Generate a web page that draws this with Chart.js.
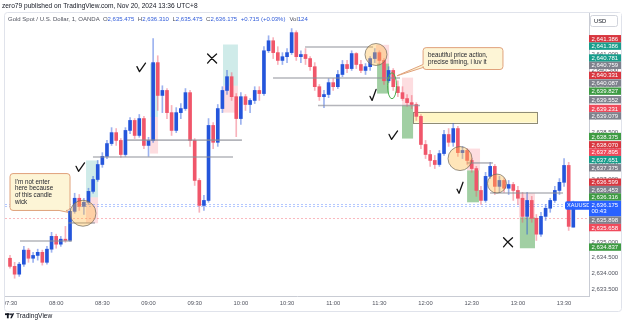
<!DOCTYPE html>
<html>
<head>
<meta charset="utf-8">
<title>XAUUSD 1m - annotated</title>
<script src="https://cdn.jsdelivr.net/npm/chart.js@4.4.1/dist/chart.umd.min.js"></script>
<style>
  html, body { margin: 0; padding: 0; background: #fff; }
  #box { position: relative; width: 625px; height: 326px; }
</style>
</head>
<body>
<div id="box"><canvas id="chart" width="625" height="326"></canvas></div>
<script>
// price data, 3-minute bars from 07:30 to 13:36
const opens = [
  2634.48, 2634.22, 2633.97, 2634.29, 2634.74, 2634.48, 2634.57, 2634.67, 2634.35, 2634.77,
  2635.18, 2634.93, 2635.09, 2635.05, 2635.98, 2636.40, 2636.14, 2636.27, 2636.62, 2637.00,
  2637.48, 2637.74, 2638.15, 2638.50, 2638.25, 2637.80, 2638.57, 2638.89, 2638.41, 2638.95,
  2638.09, 2638.25, 2640.74, 2639.69, 2639.85, 2639.14, 2638.57, 2639.14, 2639.27, 2639.78,
  2638.25, 2636.97, 2636.17, 2636.33, 2638.73, 2638.19, 2639.27, 2639.85, 2640.29, 2639.65,
  2638.95, 2639.65, 2639.40, 2639.53, 2639.85, 2639.75, 2641.12, 2641.44, 2641.06, 2640.81,
  2640.93, 2641.06, 2641.70, 2640.93, 2641.00, 2640.87, 2640.61, 2639.97, 2639.65, 2639.72,
  2640.10, 2639.97, 2640.36, 2640.68, 2640.55, 2641.03, 2640.68, 2640.49, 2640.61, 2640.87,
  2641.06, 2640.81, 2640.16, 2640.49, 2639.97, 2639.78, 2639.59, 2639.46, 2639.40, 2639.02,
  2638.12, 2637.80, 2637.61, 2637.48, 2637.83, 2638.44, 2638.19, 2638.63, 2637.86, 2637.93,
  2637.61, 2637.35, 2636.65, 2636.33, 2637.10, 2637.42, 2636.78, 2636.97, 2636.72, 2636.84,
  2636.65, 2636.40, 2635.82, 2636.33, 2635.76, 2635.25, 2635.82, 2636.08, 2636.33, 2636.65,
  2636.91, 2637.45, 2635.475
];
const highs = [
  2634.57, 2634.35, 2634.35, 2634.86, 2634.80, 2634.67, 2634.77, 2634.74, 2634.86, 2635.31,
  2635.25, 2635.18, 2635.50, 2636.08, 2636.56, 2636.52, 2636.40, 2636.72, 2637.10, 2637.61,
  2637.86, 2638.25, 2638.66, 2638.63, 2638.31, 2638.66, 2638.98, 2638.95, 2639.08, 2639.02,
  2638.35, 2641.51, 2640.96, 2640.00, 2639.91, 2639.37, 2639.30, 2639.43, 2639.91, 2639.85,
  2638.31, 2637.03, 2636.49, 2638.95, 2638.82, 2639.40, 2639.97, 2640.49, 2640.42, 2639.75,
  2639.78, 2639.72, 2639.59, 2639.97, 2639.97, 2641.25, 2641.60, 2641.54, 2641.25, 2641.06,
  2641.19, 2641.83, 2641.76, 2641.12, 2641.19, 2640.93, 2640.74, 2640.04, 2639.85, 2640.23,
  2640.23, 2640.49, 2640.81, 2640.81, 2641.12, 2641.06, 2640.81, 2640.71, 2640.93, 2641.19,
  2641.12, 2640.87, 2640.61, 2640.55, 2640.16, 2639.97, 2639.72, 2639.69, 2639.46, 2639.08,
  2638.25, 2637.93, 2637.77, 2637.93, 2638.57, 2638.63, 2638.79, 2638.70, 2638.06, 2637.99,
  2637.67, 2637.42, 2636.78, 2637.23, 2637.55, 2637.48, 2637.10, 2637.03, 2636.97, 2636.91,
  2636.78, 2636.59, 2636.59, 2636.46, 2635.88, 2635.95, 2636.20, 2636.40, 2636.78, 2637.03,
  2637.67, 2637.55, 2636.310
];
const lows = [
  2634.16, 2633.84, 2633.90, 2634.22, 2634.35, 2634.35, 2634.42, 2634.26, 2634.29, 2634.67,
  2634.80, 2634.86, 2634.99, 2635.02, 2635.92, 2636.01, 2635.88, 2636.20, 2636.56, 2636.94,
  2637.39, 2637.67, 2638.09, 2638.09, 2637.71, 2637.74, 2638.47, 2638.31, 2638.35, 2637.99,
  2637.74, 2638.19, 2639.21, 2639.14, 2638.95, 2638.41, 2638.50, 2638.95, 2639.21, 2638.06,
  2636.81, 2635.95, 2636.01, 2636.27, 2637.99, 2638.06, 2639.14, 2639.72, 2639.53, 2638.37,
  2638.76, 2639.21, 2639.14, 2639.43, 2639.53, 2639.69, 2641.06, 2640.87, 2640.68, 2640.68,
  2640.74, 2641.00, 2640.81, 2640.74, 2640.68, 2640.49, 2639.85, 2639.53, 2639.30, 2639.62,
  2639.85, 2639.91, 2640.29, 2640.42, 2640.49, 2640.55, 2640.42, 2640.36, 2640.49, 2640.74,
  2640.68, 2640.04, 2640.10, 2639.85, 2639.65, 2639.53, 2639.34, 2639.27, 2638.89, 2637.99,
  2637.67, 2637.42, 2637.35, 2637.42, 2637.77, 2638.06, 2638.06, 2637.74, 2637.67, 2637.48,
  2637.23, 2636.46, 2636.20, 2636.27, 2637.03, 2636.52, 2636.59, 2636.59, 2636.52, 2636.33,
  2636.20, 2635.63, 2635.25, 2635.63, 2635.05, 2635.18, 2635.69, 2635.95, 2636.27, 2636.52,
  2636.78, 2635.37, 2635.475
];
const closes = [
  2634.22, 2633.97, 2634.29, 2634.74, 2634.48, 2634.57, 2634.67, 2634.35, 2634.77, 2635.18,
  2634.93, 2635.09, 2635.05, 2635.98, 2636.40, 2636.14, 2636.27, 2636.62, 2637.00, 2637.48,
  2637.74, 2638.15, 2638.50, 2638.25, 2637.80, 2638.57, 2638.89, 2638.41, 2638.95, 2638.09,
  2638.25, 2640.74, 2639.69, 2639.85, 2639.14, 2638.57, 2639.14, 2639.27, 2639.78, 2638.25,
  2636.97, 2636.17, 2636.33, 2638.73, 2638.19, 2639.27, 2639.85, 2640.29, 2639.65, 2638.95,
  2639.65, 2639.40, 2639.53, 2639.85, 2639.75, 2641.12, 2641.44, 2641.06, 2640.81, 2640.93,
  2641.06, 2641.70, 2640.93, 2641.00, 2640.87, 2640.61, 2639.97, 2639.65, 2639.72, 2640.10,
  2639.97, 2640.36, 2640.68, 2640.55, 2641.03, 2640.68, 2640.49, 2640.61, 2640.87, 2641.06,
  2640.81, 2640.16, 2640.49, 2639.97, 2639.78, 2639.59, 2639.46, 2639.40, 2639.02, 2638.12,
  2637.80, 2637.61, 2637.48, 2637.83, 2638.44, 2638.19, 2638.63, 2637.86, 2637.93, 2637.61,
  2637.35, 2636.65, 2636.33, 2637.10, 2637.42, 2636.78, 2636.97, 2636.72, 2636.84, 2636.65,
  2636.40, 2635.82, 2636.33, 2635.76, 2635.25, 2635.82, 2636.08, 2636.33, 2636.65, 2636.91,
  2637.45, 2635.50, 2636.175
];
const barStep = 3; // minutes per bar, counted from 07:30
const timeTicks = ['07:30', '08:00', '08:30', '09:00', '09:30', '10:00', '10:30',
                   '11:00', '11:30', '12:00', '12:30', '13:00', '13:30'];

// coloured price tags on the right axis (drawing levels)
const tagPrices = [2641.386, 2641.386, 2640.781, 2640.759, 2640.331, 2640.087, 2639.827,
                   2639.552, 2639.231, 2639.079, 2638.375, 2638.070, 2637.895, 2637.651,
                   2637.375, 2636.599, 2636.453, 2636.316, 2635.898, 2635.658, 2634.837];
const tagKinds = ['red', 'teal', 'teal', 'grey', 'red', 'grey', 'green',
                  'grey', 'pink', 'grey', 'green', 'red', 'pink', 'teal',
                  'grey', 'red', 'grey', 'green', 'grey', 'pink', 'green'];
const lastPrice = 2636.175;
const countdown = '00:43';

const headerText = 'zero79 published on TradingView.com, Nov 20, 2024 13:36 UTC+8';
const symbolTitle = 'Gold Spot / U.S. Dollar, 1, OANDA';
const ohlcKeys = ['O', 'H', 'L', 'C'];
const changeText = '+0.715 (+0.03%)';
const volText = '124';

// user drawings, in minutes-from-07:30 and price
const levelLines = [ // [from, to, price]
  [6.5, 40.3, 2635.03], [37.7, 55.2, 2635.61], [53.9, 144.9, 2637.72], [76.0, 150.7, 2638.26],
  [191.7, 235.9, 2641.24], [170.9, 253.4, 2640.25], [200.1, 266.4, 2639.37],
  [297.0, 313.8, 2637.53], [311.9, 359.3, 2636.57]
];
const zones = [ // [from, to, top price, bottom price, kind]
  [91.0, 96.2, 2640.71, 2639.00, 'teal'], [91.0, 96.2, 2639.00, 2637.83, 'pink'],
  [138.4, 148.1, 2641.32, 2640.00, 'teal'], [138.4, 148.1, 2640.00, 2639.14, 'pink'],
  [49.4, 57.2, 2637.61, 2636.43, 'teal'], [49.4, 57.2, 2636.43, 2635.60, 'pink'],
  [237.8, 246.3, 2641.31, 2640.71, 'pink'], [238.5, 246.3, 2640.71, 2639.75, 'green'],
  [254.7, 261.9, 2640.26, 2639.37, 'pink'], [254.7, 261.9, 2639.37, 2638.31, 'green'],
  [297.0, 305.4, 2637.99, 2637.29, 'pink'], [297.0, 304.7, 2637.29, 2636.27, 'green'],
  [330.7, 341.1, 2636.56, 2635.79, 'pink'], [331.3, 341.1, 2635.79, 2634.80, 'green']
];
const noteBox = [261.9, 342.4, 2639.17, 2638.82];
const circles = [[47.4, 2635.92, 13], [237.8, 2641.00, 11], [292.4, 2637.67, 12], [316.4, 2636.87, 9.5]];
const ovals = [[248.2, 2640.00, 4.5, 13]];
const marks = [ // [minute, price, kind]
  [85.1, 2640.58, 'check'], [131.3, 2640.87, 'x'], [45.5, 2637.39, 'check'],
  [235.9, 2639.69, 'hook'], [248.9, 2638.41, 'check'], [292.4, 2636.72, 'hook'], [323.6, 2634.99, 'x']
];
const callouts = [
  { box: [0, 39, 2637.19, 2636.01], tip: [37.7, 2635.95], side: 'bottom',
    lines: ["I'm not enter", 'here because', 'of this candle', 'wick'] },
  { box: [268.4, 320.3, 2641.22, 2640.52], tip: [251.5, 2640.32], side: 'left',
    lines: ['beautiful price action,', 'precise timing, i luv it'] }
];

const FONT = '"Liberation Sans", Arial, sans-serif';
const upBody = '#2455db', upWick = 'rgba(36,85,219,0.45)';
const dnBody = '#f0566a', dnWick = 'rgba(240,86,106,0.45)';
const tagColor = { red: '#d8363f', pink: '#f04a5c', teal: '#189d8b', green: '#3e9b43', grey: '#7e818c' };
const zoneFill = { teal: 'rgba(38,166,154,0.22)', pink: 'rgba(242,54,69,0.17)', green: 'rgba(67,160,71,0.5)' };
const fmt = v => v.toLocaleString('en-US', { minimumFractionDigits: 3, maximumFractionDigits: 3 });
const isUp = i => closes[i] >= opens[i];
const barTimes = opens.map((_, i) => i * barStep);

function drawMark(ctx, cx, cy, kind) {
  ctx.beginPath();
  if (kind === 'x') {
    ctx.moveTo(cx - 4.5, cy - 4.5); ctx.lineTo(cx + 4.5, cy + 4.5);
    ctx.moveTo(cx + 4.5, cy - 4.5); ctx.quadraticCurveTo(cx - 1, cy, cx - 4.5, cy + 4.5);
  } else if (kind === 'hook') {
    ctx.moveTo(cx - 3, cy + 1); ctx.lineTo(cx - 1, cy + 5); ctx.lineTo(cx + 3, cy - 6);
  } else {
    ctx.moveTo(cx - 4, cy - 1); ctx.lineTo(cx - 1.5, cy + 4); ctx.lineTo(cx + 4.5, cy - 4.5);
  }
  ctx.stroke();
}

function bubble(ctx, x1, y1, x2, y2, t, side) {
  const r = 3;
  ctx.beginPath();
  ctx.moveTo(x1 + r, y1);
  ctx.lineTo(x2 - r, y1);
  ctx.quadraticCurveTo(x2, y1, x2, y1 + r);
  ctx.lineTo(x2, y2 - r);
  ctx.quadraticCurveTo(x2, y2, x2 - r, y2);
  if (side === 'bottom') { ctx.lineTo(x2 - 4, y2); ctx.lineTo(t[0], t[1]); ctx.lineTo(x2 - 11, y2); }
  ctx.lineTo(x1 + r, y2);
  ctx.quadraticCurveTo(x1, y2, x1, y2 - r);
  if (side === 'left') { ctx.lineTo(x1, y2 - 2); ctx.lineTo(t[0], t[1]); ctx.lineTo(x1, y2 - 5); }
  ctx.lineTo(x1, y1 + r);
  ctx.quadraticCurveTo(x1, y1, x1 + r, y1);
  ctx.closePath();
  ctx.fillStyle = '#fdf5d6';
  ctx.fill();
  ctx.strokeStyle = '#e0a27c';
  ctx.lineWidth = 1;
  ctx.stroke();
}

function layoutTags(items) {
  items.sort((a, b) => a.y - b.y);
  for (let n = 0; n < 80; n++) {
    let moved = false;
    for (let i = 0; i < items.length - 1; i++) {
      const a = items[i], b = items[i + 1];
      const need = a.below + b.above;
      const d = b.y - a.y;
      if (d < need - 0.01) {
        const push = need - d;
        if (a.fixed) b.y += push;
        else if (b.fixed) a.y -= push;
        else { a.y -= push / 2; b.y += push / 2; }
        moved = true;
      }
    }
    if (!moved) break;
  }
  return items;
}

const tvPlugin = {
  id: 'tvDrawings',
  beforeDatasetsDraw(chart) {
    const { ctx, chartArea: a, scales: { x, y } } = chart;
    ctx.save();
    ctx.beginPath(); ctx.rect(a.left, a.top, a.right - a.left, a.bottom - a.top); ctx.clip();
    zones.forEach(([m1, m2, pt, pb, kind]) => {
      const X1 = x.getPixelForValue(m1), X2 = x.getPixelForValue(m2);
      const Y1 = y.getPixelForValue(pt), Y2 = y.getPixelForValue(pb);
      ctx.fillStyle = zoneFill[kind];
      ctx.fillRect(X1, Y1, X2 - X1, Y2 - Y1);
    });
    // yellow note rectangle
    {
      const X1 = x.getPixelForValue(noteBox[0]), X2 = x.getPixelForValue(noteBox[1]);
      const Y1 = y.getPixelForValue(noteBox[2]), Y2 = y.getPixelForValue(noteBox[3]);
      ctx.fillStyle = '#fff6c4';
      ctx.fillRect(X1, Y1, X2 - X1, Y2 - Y1);
      ctx.strokeStyle = '#8f8c76';
      ctx.lineWidth = 1;
      ctx.strokeRect(Math.round(X1) + 0.5, Math.round(Y1) + 0.5, Math.round(X2 - X1), Math.round(Y2 - Y1));
    }
    // last price / previous close dotted lines
    ctx.lineWidth = 1;
    ctx.setLineDash([2, 2]);
    [[lastPrice + 0.03, 'rgba(41,98,255,0.35)'], [lastPrice - 0.035, 'rgba(41,98,255,0.35)'],
     [2635.76, 'rgba(242,54,69,0.35)']].forEach(([p, c]) => {
      const yy = Math.round(y.getPixelForValue(p)) + 0.5;
      ctx.strokeStyle = c;
      ctx.beginPath(); ctx.moveTo(a.left, yy); ctx.lineTo(a.right, yy); ctx.stroke();
    });
    ctx.setLineDash([]);
    ctx.restore();
  },
  afterDatasetsDraw(chart) {
    const { ctx, chartArea: a, scales: { x, y } } = chart;
    ctx.save();
    ctx.beginPath(); ctx.rect(a.left, a.top, a.right - a.left, a.bottom - a.top); ctx.clip();
    // horizontal levels
    ctx.strokeStyle = 'rgba(140,142,150,0.65)';
    ctx.lineWidth = 1.6;
    levelLines.forEach(([m1, m2, p]) => {
      const yy = y.getPixelForValue(p);
      ctx.beginPath(); ctx.moveTo(x.getPixelForValue(m1), yy); ctx.lineTo(x.getPixelForValue(m2), yy); ctx.stroke();
    });
    // circles
    circles.forEach(([m, p, r]) => {
      ctx.beginPath();
      ctx.arc(x.getPixelForValue(m), y.getPixelForValue(p), r, 0, Math.PI * 2);
      ctx.fillStyle = 'rgba(255,186,70,0.38)';
      ctx.fill();
      ctx.strokeStyle = 'rgba(105,98,88,0.75)';
      ctx.lineWidth = 0.9;
      ctx.stroke();
    });
    ovals.forEach(([m, p, rx, ry]) => {
      ctx.beginPath();
      ctx.ellipse(x.getPixelForValue(m), y.getPixelForValue(p), rx, ry, 0, 0, Math.PI * 2);
      ctx.strokeStyle = '#4caf50';
      ctx.lineWidth = 1;
      ctx.stroke();
    });
    // callouts
    callouts.forEach(c => {
      const x1 = x.getPixelForValue(c.box[0]), x2 = x.getPixelForValue(c.box[1]);
      const y1 = y.getPixelForValue(c.box[2]), y2 = y.getPixelForValue(c.box[3]);
      bubble(ctx, x1, y1, x2, y2, [x.getPixelForValue(c.tip[0]), y.getPixelForValue(c.tip[1])], c.side);
      ctx.fillStyle = '#1e2029';
      ctx.font = '6.3px ' + FONT;
      ctx.textBaseline = 'middle';
      ctx.textAlign = 'left';
      const lh = c.lines.length > 2 ? 6.6 : 7.6;
      const top = y1 + (y2 - y1 - lh * (c.lines.length - 1)) / 2;
      c.lines.forEach((t, i) => ctx.fillText(t, x1 + 5, top + i * lh));
    });
    // hand-drawn marks
    ctx.strokeStyle = '#141414';
    ctx.lineWidth = 1.3;
    ctx.lineCap = 'round';
    ctx.lineJoin = 'round';
    marks.forEach(([m, p, kind]) => drawMark(ctx, x.getPixelForValue(m), y.getPixelForValue(p), kind));
    ctx.restore();
    // symbol tag at the right edge of the plot
    const ly = y.getPixelForValue(lastPrice);
    ctx.save();
    ctx.fillStyle = '#2962ff';
    ctx.beginPath();
    ctx.roundRect(a.right - 24, ly - 4, 24, 8.5, [2, 0, 0, 2]);
    ctx.fill();
    ctx.fillStyle = '#fff';
    ctx.font = '5.6px ' + FONT;
    ctx.textBaseline = 'middle';
    ctx.fillText('XAUUSD', a.right - 22, ly + 0.4);
    ctx.restore();
  },
  afterDraw(chart) {
    const { ctx, chartArea: a, scales: { y } } = chart;
    ctx.save();
    // cover label overflow left of the frame
    ctx.fillStyle = '#fff';
    ctx.fillRect(0, 12, 4.5, 300);
    // frame
    ctx.strokeStyle = '#e0e3eb';
    ctx.lineWidth = 1;
    ctx.beginPath();
    ctx.roundRect(4.5, 12.5, 617, 299, 3);
    ctx.stroke();
    // header
    ctx.textBaseline = 'middle';
    ctx.textAlign = 'left';
    ctx.fillStyle = '#131722';
    ctx.font = '6.6px ' + FONT;
    ctx.fillText(headerText, 2, 6.5);
    // symbol / OHLC line
    ctx.font = '6px ' + FONT;
    let cx = 8;
    const put = (t, col, gap) => { ctx.fillStyle = col; ctx.fillText(t, cx, 19.5); cx += ctx.measureText(t).width + gap; };
    put(symbolTitle, '#50535e', 3.2);
    const n = opens.length - 1;
    [opens[n], highs[n], lows[n], closes[n]].forEach((v, i) => {
      put(ohlcKeys[i], '#50535e', 0);
      put(fmt(v), '#2f5bd9', 3.6);
    });
    put(changeText, '#2f5bd9', 4);
    put('Vol', '#50535e', 0);
    put(volText, '#2f5bd9', 0);
    // USD box (covers the top tick label)
    ctx.fillStyle = '#fff';
    ctx.fillRect(a.right + 1, 13, 31, 19);
    ctx.strokeStyle = '#d1d4dc';
    ctx.beginPath(); ctx.roundRect(590.5, 15.5, 27, 11, 2); ctx.stroke();
    ctx.fillStyle = '#131722';
    ctx.font = '5.8px ' + FONT;
    ctx.fillText('USD', 594, 21.3);
    // coloured axis tags
    const items = tagPrices.map((p, i) => ({ y: y.getPixelForValue(p), above: 3.7, below: 3.7,
      text: fmt(p), color: tagColor[tagKinds[i]], fixed: false }));
    items.push({ y: y.getPixelForValue(lastPrice), above: 4.6, below: 11.2, text: fmt(lastPrice),
      color: '#2962ff', fixed: true, last: true });
    layoutTags(items);
    ctx.font = '6px ' + FONT;
    items.forEach(it => {
      ctx.fillStyle = it.color;
      ctx.fillRect(a.right, it.y - it.above, 32, it.above + it.below);
      ctx.fillStyle = '#fff';
      ctx.fillText(it.text, a.right + 2.5, it.y + 0.4);
      if (it.last) ctx.fillText(countdown, a.right + 2.5, it.y + 6.5);
    });
    // footer logo
    ctx.fillStyle = '#131722';
    ctx.fillRect(5, 313.3, 4.6, 1.8);
    ctx.fillRect(6.9, 313.3, 1.8, 5);
    ctx.beginPath(); ctx.arc(11, 314.2, 0.95, 0, Math.PI * 2); ctx.fill();
    ctx.beginPath(); ctx.moveTo(10.2, 318.3); ctx.lineTo(12.6, 313.3); ctx.lineTo(14.2, 313.3); ctx.lineTo(11.8, 318.3); ctx.closePath(); ctx.fill();
    ctx.font = '6.6px ' + FONT;
    ctx.fillText('TradingView', 16, 316);
    ctx.restore();
  }
};

new Chart(document.getElementById('chart'), {
  type: 'bar',
  data: {
    datasets: [
      {
        label: 'wick',
        data: barTimes.map((m, i) => ({ x: m, y: [lows[i], highs[i]] })),
        backgroundColor: c => isUp(c.dataIndex) ? upWick : dnWick,
        barThickness: 1,
        grouped: false,
        order: 2
      },
      {
        label: 'body',
        data: barTimes.map((m, i) => ({ x: m, y: [opens[i], closes[i]] })),
        backgroundColor: c => isUp(c.dataIndex) ? upBody : dnBody,
        barThickness: 3,
        minBarLength: 1,
        grouped: false,
        order: 1
      }
    ]
  },
  options: {
    responsive: false,
    devicePixelRatio: 1,
    animation: false,
    events: [],
    layout: { padding: { top: 12, left: 5, right: 4, bottom: 15 } },
    plugins: { legend: { display: false }, tooltip: { enabled: false } },
    scales: {
      x: {
        type: 'linear',
        offset: false,
        min: -3.25,
        max: 376.2,
        grid: { display: false, drawTicks: false },
        border: { display: true, color: '#c9ccd4' },
        afterBuildTicks: s => { s.ticks = timeTicks.map((_, i) => ({ value: i * 30 })); },
        afterFit: s => { s.height = 15; s.paddingLeft = 0; s.paddingRight = 0; },
        ticks: {
          autoSkip: false, maxRotation: 0, padding: 4,
          color: '#50535e', font: { family: 'Liberation Sans', size: 5.8 },
          callback: (v, i) => timeTicks[i]
        }
      },
      y: {
        position: 'right',
        min: 2633.272,
        max: 2642.36,
        grid: { display: false, drawTicks: false },
        border: { display: true, color: '#c9ccd4' },
        afterFit: s => { s.width = 32; s.paddingTop = 0; s.paddingBottom = 0; },
        ticks: {
          stepSize: 0.5, maxTicksLimit: 40, includeBounds: false, padding: 2.5,
          color: '#50535e', font: { family: 'Liberation Sans', size: 6 },
          callback: v => fmt(v)
        }
      }
    }
  },
  plugins: [tvPlugin]
});
</script>
</body>
</html>
